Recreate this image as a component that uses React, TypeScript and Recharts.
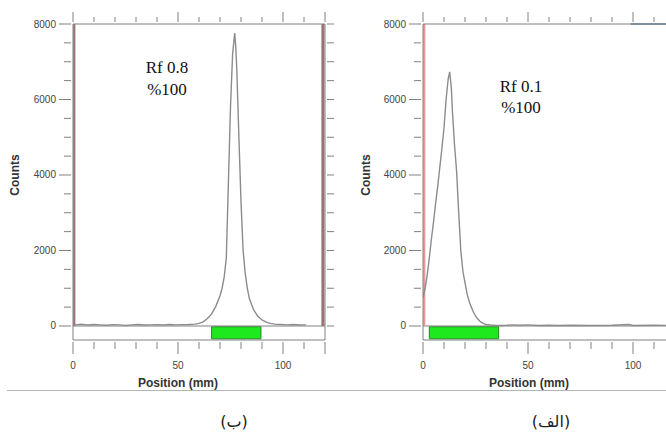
import React from 'react';
import { LineChart, Line, XAxis, YAxis, ReferenceLine, ReferenceArea } from 'recharts';

// panel (ب): peak near 77 mm
const leftPos = [1, 4, 7, 10, 13, 16, 19, 22, 25, 28, 31, 34, 37, 40, 43, 46, 49, 52, 55, 58, 60, 62, 64, 66, 68, 70, 71, 72, 73, 74, 75, 76, 77, 77.5, 78, 79, 80, 81, 82, 83, 84, 86, 88, 90, 92, 94, 96, 99, 102, 105, 108, 111];
const leftCounts = [30, 45, 25, 40, 30, 20, 35, 30, 15, 30, 40, 25, 30, 35, 25, 40, 30, 35, 40, 50, 70, 110, 200, 320, 520, 800, 1000, 1300, 1800, 3800, 5800, 7200, 7760, 7400, 6800, 5000, 3300, 2000, 1400, 1000, 720, 430, 260, 160, 100, 70, 50, 40, 30, 40, 25, 30];

// panel (الف): peak near 13 mm
const rightPos = [0, 1, 2, 3, 4, 5, 6, 7, 8, 9, 10, 11, 12, 12.7, 13.5, 14, 15, 16, 17, 18, 19, 20, 21, 22, 23, 24, 25, 26, 27, 28, 29, 30, 32, 35, 40, 43, 46, 50, 55, 60, 65, 70, 80, 90, 98, 100, 110, 118];
const rightCounts = [750, 1000, 1350, 1800, 2300, 2750, 3250, 3700, 4200, 4700, 5250, 6000, 6550, 6730, 6300, 5700, 4800, 4100, 3000, 2000, 1450, 1150, 850, 650, 500, 370, 270, 190, 130, 90, 60, 40, 25, 15, 20, 30, 20, 30, 15, 20, 15, 20, 15, 20, 40, 15, 20, 15];

const xTicks = [0, 10, 20, 30, 40, 50, 60, 70, 80, 90, 100, 110, 120];
const xLabeled = [0, 50, 100];
const xLong = [0, 50, 100, 120];
const yTicks = [0, 500, 1000, 1500, 2000, 2500, 3000, 3500, 4000, 4500, 5000, 5500, 6000, 6500, 7000, 7500, 8000];
const yLabeled = [0, 2000, 4000, 6000, 8000];

const leftBand = [66, 89.5];
const rightBand = [3, 36];
const leftTitle = ['Rf 0.8', '%100'];
const rightTitle = ['Rf 0.1', '%100'];
const captions = ['(ب)', '(الف)'];

const AXIS = '#808080';
const Y_MIN = -371;
const PLOT_W = 252;

const LeftYTick = (p: any) => {
  const v = p.payload.value;
  const major = yLabeled.includes(v);
  const len = major ? 12 : 7;
  return (
    <g>
      <line x1={p.x - len} x2={p.x} y1={p.y} y2={p.y} stroke={AXIS} />
      {major && (
        <text x={p.x - len - 3} y={p.y} dy={3.5} textAnchor="end" fontSize={10} fill="#444" fontFamily="Arial">
          {v}
        </text>
      )}
    </g>
  );
};

const RightYTick = (p: any) => {
  const len = yLabeled.includes(p.payload.value) ? 12 : 7;
  return <line x1={p.x} x2={p.x + len} y1={p.y} y2={p.y} stroke={AXIS} />;
};

const TopTick = (p: any) => {
  const len = xLong.includes(p.payload.value) ? 10 : 5;
  return <line x1={p.x} x2={p.x} y1={p.y} y2={p.y - len} stroke={AXIS} />;
};

const BottomTick = (p: any) => {
  const v = p.payload.value;
  const len = xLong.includes(v) ? 12 : 7;
  return (
    <g>
      <line x1={p.x} x2={p.x} y1={p.y} y2={p.y + len} stroke={AXIS} />
      {xLabeled.includes(v) && (
        <text x={p.x} y={p.y + 27} textAnchor="middle" fontSize={10} fill="#444" fontFamily="Arial">
          {v}
        </text>
      )}
    </g>
  );
};

interface PanelProps {
  pos: number[];
  counts: number[];
  band: number[];
  width: number;
  leftMargin: number;
  edgeColor: string;
  showRightEdge: boolean;
  showBlue: boolean;
}

function Panel({ pos, counts, band, width, leftMargin, edgeColor, showRightEdge, showBlue }: PanelProps) {
  const data = pos.map((x, i) => ({ x, y: counts[i] }));
  return (
    <LineChart
      width={width}
      height={400}
      data={data}
      margin={{ top: 23, right: width - leftMargin - 60 - PLOT_W - 1, left: leftMargin, bottom: 10 }}
    >
      <XAxis xAxisId="b" dataKey="x" type="number" domain={[0, 120]} ticks={xTicks} interval={0} height={50}
        tickSize={0} tickLine={false} stroke={AXIS} tick={BottomTick} allowDataOverflow />
      <XAxis xAxisId="t" orientation="top" dataKey="x" type="number" domain={[0, 120]} ticks={xTicks} interval={0}
        height={1} tickSize={0} tickLine={false} stroke={AXIS} tick={TopTick} allowDataOverflow />
      <YAxis yAxisId="l" type="number" domain={[Y_MIN, 8000]} ticks={yTicks} interval={0} width={60}
        tickSize={0} tickLine={false} stroke={AXIS} tick={LeftYTick} allowDataOverflow />
      <YAxis yAxisId="r" orientation="right" type="number" domain={[Y_MIN, 8000]} ticks={yTicks} interval={0} width={1}
        tickSize={0} tickLine={false} stroke={AXIS} tick={RightYTick} allowDataOverflow />
      <ReferenceLine xAxisId="b" yAxisId="l" y={0} stroke={AXIS} />
      <ReferenceArea xAxisId="b" yAxisId="l" x1={band[0]} x2={band[1]} y1={-340} y2={-20}
        fill="#1ee81e" fillOpacity={1} stroke="#1f8a1f" strokeWidth={1} />
      <ReferenceLine xAxisId="b" yAxisId="l" stroke={edgeColor} strokeWidth={2.2}
        segment={[{ x: 0.6, y: 0 }, { x: 0.6, y: 8000 }]} />
      {showRightEdge && (
        <ReferenceLine xAxisId="b" yAxisId="l" stroke={edgeColor} strokeWidth={3}
          segment={[{ x: 119, y: 0 }, { x: 119, y: 8000 }]} />
      )}
      {showBlue && (
        <ReferenceLine xAxisId="b" yAxisId="l" stroke="#7e9cb8" strokeWidth={2}
          segment={[{ x: 99, y: 8000 }, { x: 120, y: 8000 }]} />
      )}
      <Line xAxisId="b" yAxisId="l" dataKey="y" type="linear" stroke="#8c8c8c" strokeWidth={1.4}
        dot={false} isAnimationActive={false} />
    </LineChart>
  );
}

export default function App() {
  const serif = '"Liberation Serif", "Times New Roman", serif';
  return (
    <div style={{ position: 'absolute', left: 0, top: 0, width: 666, height: 432, overflow: 'hidden', background: '#fff' }}>
      <div style={{ position: 'absolute', left: 0, top: 0 }}>
        <Panel pos={leftPos} counts={leftCounts} band={leftBand} width={334} leftMargin={13}
          edgeColor="#9c7272" showRightEdge showBlue={false} />
      </div>
      <div style={{ position: 'absolute', left: 333, top: 0 }}>
        <Panel pos={rightPos} counts={rightCounts} band={rightBand} width={345} leftMargin={30}
          edgeColor="#e69a9a" showRightEdge={false} showBlue />
      </div>
      <svg width={666} height={432} style={{ position: 'absolute', left: 0, top: 0, pointerEvents: 'none' }}>
        <text x={167} y={73} textAnchor="middle" fontSize={17} fontFamily={serif} fill="#111">{leftTitle[0]}</text>
        <text x={167} y={95} textAnchor="middle" fontSize={17} fontFamily={serif} fill="#111">{leftTitle[1]}</text>
        <text x={521} y={92} textAnchor="middle" fontSize={17} fontFamily={serif} fill="#111">{rightTitle[0]}</text>
        <text x={521} y={113} textAnchor="middle" fontSize={17} fontFamily={serif} fill="#111">{rightTitle[1]}</text>
        <text transform="translate(19,175) rotate(-90)" textAnchor="middle" fontSize={12} fontWeight="bold" fontFamily="Arial" fill="#333">Counts</text>
        <text transform="translate(370,175) rotate(-90)" textAnchor="middle" fontSize={12} fontWeight="bold" fontFamily="Arial" fill="#333">Counts</text>
        <text x={178} y={387} textAnchor="middle" fontSize={12} fontWeight="bold" fontFamily="Arial" fill="#333">Position (mm)</text>
        <text x={529} y={387} textAnchor="middle" fontSize={12} fontWeight="bold" fontFamily="Arial" fill="#333">Position (mm)</text>
        <line x1={7} x2={666} y1={390.5} y2={390.5} stroke="#b5b5b5" strokeWidth={1} />
        <text x={234} y={427} textAnchor="middle" fontSize={16} fontFamily='"DejaVu Sans", sans-serif' fill="#222">{captions[0]}</text>
        <text x={551} y={427} textAnchor="middle" fontSize={16} fontFamily='"DejaVu Sans", sans-serif' fill="#222">{captions[1]}</text>
      </svg>
    </div>
  );
}
